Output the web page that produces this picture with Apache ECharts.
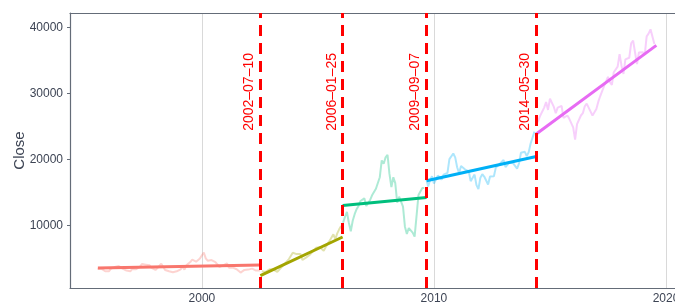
<!DOCTYPE html>
<html>
<head>
<meta charset="utf-8">
<script src="https://cdn.jsdelivr.net/npm/echarts@6/dist/echarts.min.js"></script>
<style>
  html, body { margin: 0; padding: 0; background: #fff; }
  #chart { width: 675px; height: 304px; }
</style>
</head>
<body>
<div id="chart"></div>
<script>
// change points and fitted segment ends
var changeDates = ['2002-07-10', '2006-01-25', '2009-09-07', '2014-05-30'];
var dataStart = '1995-07-10', dataEnd = '2019-08-02';
var fitStart = [3550, 2380, 13030, 16770, 23850];
var fitEnd = [4000, 8240, 14240, 20450, 37270];
var segColors = ['#F8766D', '#A3A500', '#00BF7D', '#00B0F6', '#E76BF3'];

// monthly close, first month of each segment
var monthStarts = ['1995-07', '2002-08', '2006-02', '2009-09', '2014-06'];
var close1 = [
  3450, 3300, 3450, 3400, 3050, 3100,
  3050, 3450, 3350, 3700, 3750, 3850, 3550, 3450, 3350, 3150, 3050, 3050,
  3400, 3600, 3350, 3600, 3750, 4150, 4300, 4050, 3950, 3950, 3550, 3650,
  3250, 3450, 3850, 4200, 3900, 3250, 3350, 3050, 3100, 2900, 2850, 3050,
  3300, 3350, 3750, 3300, 3950, 4150, 4450, 4800, 4750, 4500, 4650, 5000,
  5200, 5900, 5000, 4650, 4400, 4750, 4450, 4450, 4100, 3700, 3950, 3950,
  4250, 4250, 3600, 3500, 3600, 3450, 3350, 3250, 2850, 3000, 3250, 3250,
  3300, 3550, 3450, 3350, 3150, 3250, 3150
];
var close2 = [
  3050, 2950, 2950, 3200, 3350,
  3250, 3300, 3050, 2950, 3200, 3600, 3800, 4250, 4450, 4900, 5050, 5850,
  5700, 5650, 5600, 5650, 4750, 4800, 5150, 5200, 5600, 5650, 6250, 6600,
  6550, 6700, 6500, 6150, 6700, 7200, 7650, 7800, 8650, 7900, 8800, 9400,
  9900
];
var close3 = [
  10400, 11300, 12050, 10400, 9100, 10700, 11700, 12450, 12950, 13700, 13800,
  14100, 12950, 13050, 13850, 14550, 14650, 15550, 15300, 17300, 19850, 19350, 20300,
  20700, 17800, 15800, 17300, 16400, 13450, 14350, 14550, 12850, 9800, 8700, 9600,
  9450, 8900, 8300, 11400, 14600, 14500, 15650, 15650
];
var close4 = [
  17100, 15900, 16900, 17450,
  16350, 16450, 17550, 17550, 16950, 17700, 17850, 17950, 20050, 20300, 20900, 20300,
  18800, 17900, 19000, 19100, 18500, 18800, 18200, 16700, 16450, 17700, 16100, 15500,
  17200, 17750, 17400, 17300, 16200, 17400, 17150, 17450, 18750, 18500, 19300, 19400,
  19900, 18850, 18800, 19500, 19750, 19400, 19350, 18600, 19400, 21000, 20800, 21150,
  20500, 21100, 22400, 22400, 24200
];
var close5 = [
  25400, 25900, 26650, 26650, 27850, 28700, 27500,
  29200, 29350, 27950, 27000, 27850, 27800, 28100, 26300, 26150, 26650, 26150, 26100,
  24850, 23000, 25350, 25600, 26650, 27000, 28050, 28450, 27850, 27900, 26650, 26600,
  27650, 28750, 29600, 29900, 31150, 30900, 32500, 31700, 31300, 33200, 33150, 34050,
  35950, 34200, 32950, 35150, 35300, 35400, 37600, 38000, 36200, 34450, 36200, 36050,
  36250, 35850, 38650, 39050, 39700, 40000, 37500
];
var closes = [close1, close2, close3, close4, close5];

var yTicks = [10000, 20000, 30000, 40000];
var xTicks = [2000, 2010, 2020];

function toYear(s) {
  var p = s.split('-');
  var y = +p[0];
  var d0 = Date.UTC(y, 0, 1), d1 = Date.UTC(y + 1, 0, 1);
  var d = Date.UTC(y, +p[1] - 1, p[2] ? +p[2] : 1);
  return y + (d - d0) / (d1 - d0);
}
function monthYear(start, i) {
  var y = +start.slice(0, 4), m = +start.slice(5, 7) - 1 + i;
  return y + m / 12;
}
function plain(v) { return String(v); }

var bounds = [dataStart].concat(changeDates, [dataEnd]).map(toYear);

var series = [];
closes.forEach(function (arr, k) {
  series.push({
    type: 'line',
    data: arr.map(function (v, i) { return [monthYear(monthStarts[k], i), v]; }),
    showSymbol: false,
    silent: true,
    z: 1,
    lineStyle: { color: segColors[k], width: 2, opacity: 0.32 }
  });
});
closes.forEach(function (arr, k) {
  series.push({
    type: 'line',
    data: [[bounds[k], fitStart[k]], [bounds[k + 1], fitEnd[k]]],
    showSymbol: false,
    silent: true,
    z: 3,
    lineStyle: { color: segColors[k], width: 3 }
  });
});
series.push({
  type: 'line',
  data: [],
  z: 4,
  markLine: {
    silent: true,
    symbol: ['none', 'none'],
    lineStyle: { color: '#ff0000', width: 3, type: [11, 7] },
    label: {
      show: true,
      position: 'insideEndTop',
      formatter: '{b}',
      color: '#ff0000',
      fontSize: 14,
      fontFamily: 'Liberation Sans, Arial, sans-serif',
      distance: [40, 4]
    },
    data: changeDates.map(function (d) {
      return { name: d.replace(/-/g, '\u2013'), xAxis: toYear(d) };
    })
  }
});

var chart = echarts.init(document.getElementById('chart'));
chart.setOption({
  animation: false,
  textStyle: { fontFamily: 'Liberation Sans, Arial, sans-serif' },
  grid: { left: 70, right: 0, top: 13, bottom: 16, outerBoundsMode: 'none', containLabel: false },
  xAxis: [{
    type: 'value',
    min: 1994.317,
    max: 2020.388,
    axisLine: { show: true, lineStyle: { color: '#646c78', width: 1.2 } },
    axisTick: { show: false, customValues: xTicks },
    splitLine: { show: true, lineStyle: { color: '#d9d9d9', width: 1 } },
    axisLabel: { customValues: xTicks, formatter: plain, color: '#3d4454', fontSize: 12, margin: 5, hideOverlap: false }
  }, {
    type: 'value',
    position: 'top',
    min: 1994.317,
    max: 2020.388,
    axisLine: { show: true, lineStyle: { color: '#646c78', width: 1.2 } },
    axisTick: { show: false },
    splitLine: { show: false },
    axisLabel: { show: false }
  }],
  yAxis: {
    type: 'value',
    min: 515,
    max: 42180,
    name: 'Close',
    nameLocation: 'middle',
    nameGap: 43,
    nameMoveOverlap: false,
    nameTextStyle: { color: '#3d4454', fontSize: 15 },
    axisLine: { show: true, lineStyle: { color: '#646c78', width: 1.2 } },
    axisTick: { show: true, length: 3, customValues: yTicks, lineStyle: { color: '#646c78' } },
    splitLine: { show: false },
    axisLabel: { customValues: yTicks, formatter: plain, color: '#3d4454', fontSize: 12, margin: 7 }
  },
  series: series
});
</script>
</body>
</html>
